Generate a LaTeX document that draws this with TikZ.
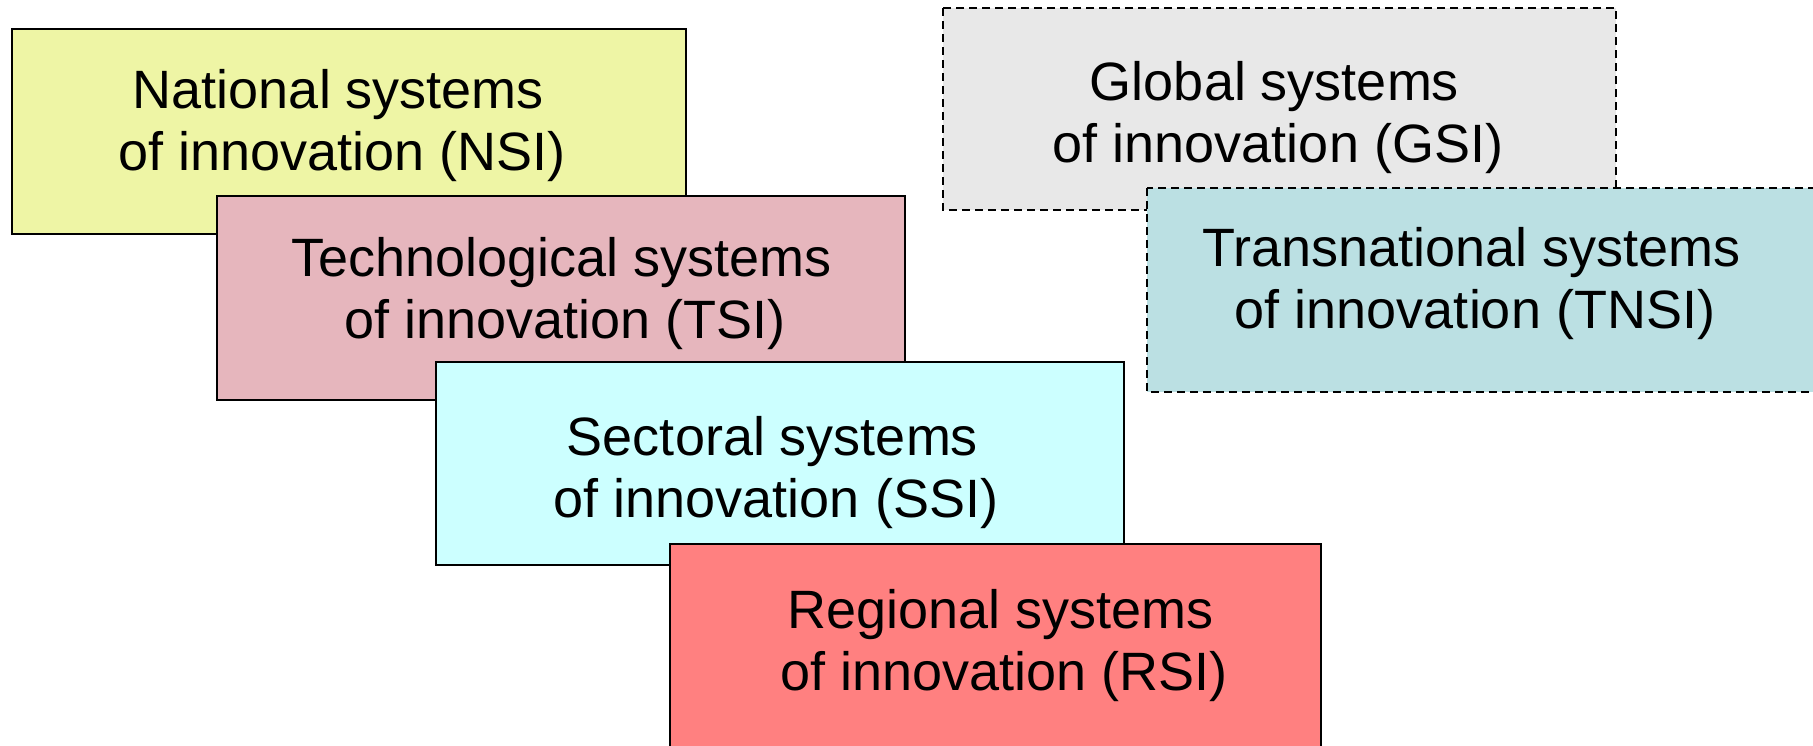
\documentclass[tikz,border=0pt]{standalone}
\usepackage{fontspec}
\setmainfont{Liberation Sans}
\definecolor{nsiC}{RGB}{238,245,165}
\definecolor{tsiC}{RGB}{230,182,189}
\definecolor{ssiC}{RGB}{204,255,255}
\definecolor{rsiC}{RGB}{255,128,128}
\definecolor{gsiC}{RGB}{232,232,232}
\definecolor{tnsiC}{RGB}{187,224,227}
% trailing gap after the first line of each label
\newcommand{\trail}{\hspace*{7pt}}
\begin{document}
\begin{tikzpicture}[x=1pt,y=-1pt,
  sysbox/.style={draw=black,line width=1.2pt,rectangle,inner sep=0pt},
  openbox/.style={sysbox,dashed,dash pattern=on 8pt off 5pt,line width=1.4pt},
  lbl/.style={align=center,inner sep=0pt,font=\fontsize{54}{62}\selectfont}]
\useasboundingbox (0,0) rectangle (1813,745);
\clip (0,0) rectangle (1813,745);
% stacked boxes, drawn back to front
\path[sysbox,fill=nsiC] (12,29) rectangle (686,234);
\node[lbl] (nsi) at (342,126) {National systems\trail\\of innovation (NSI)};
\path[sysbox,fill=tsiC] (217,196) rectangle (905,400);
\node[lbl] (tsi) at (565,294) {Technological systems\trail\\of innovation (TSI)};
\path[sysbox,fill=ssiC] (436,362) rectangle (1124,565);
\node[lbl] (ssi) at (776,473) {Sectoral systems\trail\\of innovation (SSI)};
\path[sysbox,fill=rsiC] (670,544) rectangle (1321,775);
\node[lbl] (rsi) at (1004,646) {Regional systems\trail\\of innovation (RSI)};
% dashed boxes on the right
\path[openbox,fill=gsiC] (943,8) rectangle (1616,210);
\node[lbl] (gsi) at (1278,118) {Global systems\trail\\of innovation (GSI)};
\path[openbox,fill=tnsiC] (1147,188) rectangle (1830,392);
\node[lbl] (tnsi) at (1475,284) {Transnational systems\trail\\of innovation (TNSI)};
\end{tikzpicture}
\end{document}
